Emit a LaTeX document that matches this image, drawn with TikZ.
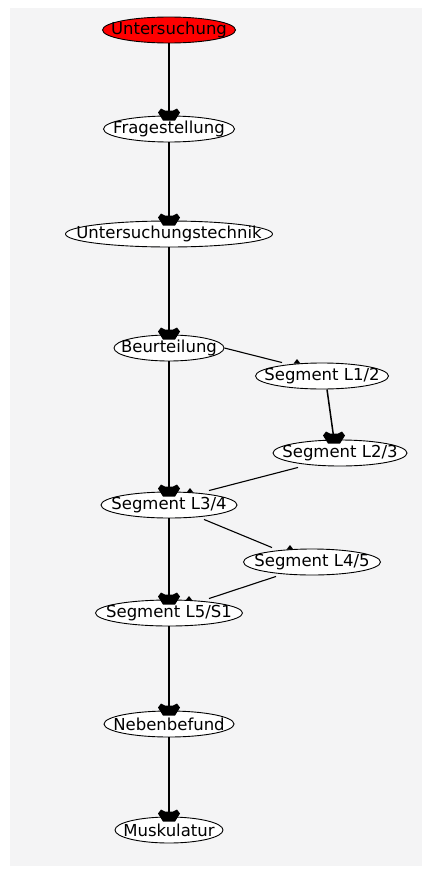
\documentclass[tikz,border=0pt]{standalone}
\usepackage{fontspec}
\setmainfont{DejaVu Sans}
\usetikzlibrary{shapes.geometric}
\definecolor{paper}{RGB}{244,244,245}
\definecolor{startred}{RGB}{255,0,0}
\tikzset{
  x=1pt, y=-1pt,
  % ellipse sized by minimum width/height only, hugging its label
  topic/.style={ellipse, draw=black, line width=0.9pt, fill=white,
                inner xsep=-40pt, inner ysep=-15pt,
                minimum height=26pt, minimum width=#1,
                font=\fontsize{16.5}{18}\selectfont},
  start/.style={topic=#1, fill=startred},
  mainlink/.style={draw=black, line width=1.5pt},
  sidelink/.style={draw=black, line width=1.1pt},
  crown/.pic={\fill[black] (-6,0) -- (6,0) -- (11,-8) -- (8,-12) -- (4,-10) -- (-4,-10) -- (-8,-12) -- (-11,-8) -- cycle;},
  tick/.pic={\fill[black] (-3.5,0) -- (3.5,0) -- (0,-4.5) -- cycle;}
}
\begin{document}
\begin{tikzpicture}
\useasboundingbox (0,0) rectangle (425,870);
\fill[white] (0,0) rectangle (425,870);
\fill[paper] (10,8) rectangle (422,866);

% topics
\node[start=133pt] (u)    at (169,30)  {Untersuchung};
\node[topic=131pt] (frag) at (169,129) {Fragestellung};
\node[topic=207pt] (tech) at (169,234) {Untersuchungstechnik};
\node[topic=110pt] (beur) at (169,348) {Beurteilung};
\node[topic=133pt] (l12)  at (322,376) {Segment L1/2};
\node[topic=134pt] (l23)  at (340,453) {Segment L2/3};
\node[topic=136pt] (l34)  at (169,505) {Segment L3/4};
\node[topic=137pt] (l45)  at (312,562) {Segment L4/5};
\node[topic=147pt] (l5s1) at (169,613) {Segment L5/S1};
\node[topic=130pt] (neb)  at (169,724) {Nebenbefund};
\node[topic=108pt] (musk) at (169,830) {Muskulatur};

% main chain
\foreach \a/\b in {u/frag, frag/tech, tech/beur, beur/l34, l34/l5s1, l5s1/neb, neb/musk}{
  \draw[mainlink] (\a.south) -- (\b.north);
  \path ([yshift=-5pt]\b.north) pic {crown};
}

% side branch
\draw[sidelink] (beur.east) -- ([xshift=-40pt]l12.north);
\path ([xshift=-25pt,yshift=-1pt]l12.north) pic {tick};
\draw[mainlink] ([xshift=5pt]l12.south) -- ([xshift=-6pt]l23.north);
\path ([xshift=-6pt,yshift=-4pt]l23.north) pic {crown};
\draw[sidelink] ([xshift=-42pt,yshift=-1pt]l23.south) -- ([xshift=40pt,yshift=1pt]l34.north);
\path ([xshift=21pt,yshift=-1pt]l34.north) pic {tick};
\draw[sidelink] ([xshift=35pt,yshift=-1pt]l34.south) -- ([xshift=-40pt,yshift=1pt]l45.north);
\path ([xshift=-22pt,yshift=-1pt]l45.north) pic {tick};
\draw[sidelink] ([xshift=-36pt,yshift=-1pt]l45.south) -- ([xshift=40pt,yshift=1pt]l5s1.north);
\path ([xshift=20pt,yshift=-1pt]l5s1.north) pic {tick};
\end{tikzpicture}
\end{document}
